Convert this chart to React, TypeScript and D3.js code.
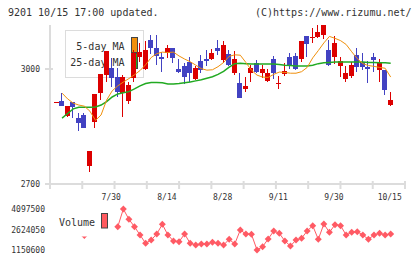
import * as d3 from "d3";

// daily candles, index 0 .. 60
const opens = [2914, 2917, 2878, 2915, 2872, 2879, 2748, 2863, 2938, 2984, 3002, 2980, 2937, 2917, 2977, 3032, 2999, 3076, 3054, 3031, 3041, 3055, 3000, 3008, 3018, 2974, 3021, 3026, 3027, 3056, 3024, 3039, 2989, 2964, 2949, 2989, 3016, 2989, 2970, 3026, 2960, 2987, 3030, 3034, 3026, 3086, 3080, 3084, 3089, 3050, 3031, 3009, 2974, 2982, 3037, 3018, 3005, 3031, 2997, 2997, 2906];
const closes = [2914, 2904, 2904, 2902, 2860, 2847, 2786, 2935, 2987, 3048, 2977, 2941, 2980, 2958, 3041, 3044, 3050, 3054, 3035, 3026, 3056, 3028, 2993, 2980, 2989, 3003, 2997, 3022, 3043, 3048, 3063, 3011, 3026, 2925, 2956, 3003, 2993, 3000, 2989, 2989, 2964, 2995, 3008, 2999, 3073, 3064, 3084, 3097, 3115, 3010, 3068, 3022, 2990, 3010, 3006, 3006, 3000, 3024, 3018, 2945, 2919];
const highs = [2914, 2937, 2904, 2915, 2884, 2884, 2786, 2935, 2987, 3048, 3028, 3002, 2984, 2966, 3050, 3067, 3074, 3089, 3089, 3044, 3063, 3055, 3025, 3016, 3030, 3009, 3037, 3050, 3052, 3076, 3073, 3050, 3047, 2989, 2978, 3010, 3024, 3010, 3000, 3034, 2982, 3016, 3041, 3041, 3073, 3086, 3106, 3115, 3115, 3076, 3086, 3032, 3009, 3019, 3054, 3041, 3021, 3041, 3026, 2997, 2940];
const lows = [2914, 2904, 2876, 2873, 2839, 2847, 2731, 2845, 2919, 2967, 2954, 2928, 2876, 2909, 2967, 3019, 2997, 3039, 3010, 2993, 3028, 3016, 2989, 2960, 2967, 2971, 2989, 3007, 3024, 3037, 3016, 3007, 2984, 2925, 2939, 2966, 2989, 2976, 2965, 2974, 2948, 2982, 2999, 2997, 3019, 3032, 3067, 3080, 3077, 3007, 3013, 2980, 2967, 2976, 2993, 2997, 2964, 2993, 2967, 2932, 2904];

const ma5 = [null, 2937, 2922, 2911, 2906, 2903, 2890, 2866, 2880, 2919, 2943, 2956, 2966, 2975, 2985, 2996, 3011, 3030, 3040, 3044, 3043, 3044, 3034, 3026, 3019, 3010, 3001, 2997, 2998, 3006, 3017, 3033, 3037, 3036, 3017, 2997, 2984, 2979, 2978, 2986, 2992, 2991, 2989, 2989, 2993, 3004, 3029, 3048, 3068, 3085, 3080, 3074, 3064, 3045, 3027, 3014, 3009, 3007, 3004, 3002, 2979];
const ma25 = [null, 2872, 2884, 2896, 2900, 2900, 2900, 2901, 2906, 2915, 2927, 2935, 2938, 2941, 2948, 2956, 2962, 2965, 2965, 2964, 2961, 2961, 2962, 2964, 2966, 2969, 2972, 2976, 2980, 2986, 2994, 3005, 3014, 3015, 3014, 3013, 3013, 3013, 3013, 3013, 3012, 3010, 3009, 3008, 3008, 3008, 3010, 3014, 3016, 3017, 3018, 3018, 3018, 3018, 3018, 3018, 3017, 3017, 3016, 3016, 3015];

// first points sit behind the volume legend
const volumes = [null, null, null, null, null, 2190000, null, null, null, null, null, 2825000, 4097500, 3357000, 2825000, 2229000, 1632000, 1869000, 2301000, 2998000, 2229000, 1797000, 1747000, 2301000, 1632000, 1510000, 1582000, 1582000, 1704000, 1632000, 1510000, 1920000, 1582000, 2588000, 2301000, 2279000, 1150600, 1388000, 1941000, 2516000, 2351000, 1797000, 1438000, 1869000, 1992000, 2516000, 2897000, 1920000, 3019000, 2423000, 2969000, 2897000, 2229000, 2423000, 2466000, 2229000, 1920000, 2229000, 2351000, 2229000, 2301000];

const dateLabels = ["7/30", "8/14", "8/28", "9/11", "9/30", "10/15"];
const dateLabelIdx = [10, 20, 30, 40, 50, 60];
const priceTicks = [2700, 3000];
const volumeTicks = [4097500, 2624050, 1150600];

const FONT = "'DejaVu Sans Mono', monospace";
const RED = "#dc0000";
const BLUE = "#4242c2";
const ORANGE = "#f0900c";
const GREEN = "#22aa22";
const VOL = "#ff5a64";
const AXIS = "#dcdcdc";

export default function App() {
  const x = d3.scaleLinear().domain([0, opens.length - 1]).range([56.5, 390.7]);
  const y = d3.scaleLinear().domain([2700, 3000]).range([184, 69]);
  const vy = d3.scaleLinear().domain([1150600, 4097500]).range([250, 209]);
  const tickX = d3.scaleLinear().domain([0, 11]).range([50, 405]);

  const maLine = d3
    .line<number | null>()
    .defined((d) => d != null)
    .x((d, i) => x(i))
    .y((d) => y(d as number));

  const volLine = d3
    .line<number | null>()
    .defined((d) => d != null)
    .x((d, i) => x(i))
    .y((d) => vy(d as number));

  const diamond = d3.symbol(d3.symbolSquare, 24)();

  return (
    <svg
      width={420}
      height={259}
      style={{ position: "absolute", left: 0, top: 0, display: "block", background: "#fff" }}
      fontFamily={FONT}
    >
      <text x={8} y={16} fontSize={10} fill="#333">9201 10/15 17:00 updated.</text>
      <text x={255} y={16} fontSize={10} fill="#333">(C)https://www.rizumu.net/</text>

      {/* legend box (behind the candles) */}
      <rect x={65.5} y={30.5} width={78} height={47} fill="#fff" stroke={AXIS} />
      <text x={124.5} y={49.5} fontSize={10} textAnchor="end" fill="#333">5-day MA</text>
      <text x={124.5} y={66} fontSize={10} textAnchor="end" fill="#333">25-day MA</text>
      <rect x={131.5} y={37.5} width={6} height={15} fill={ORANGE} stroke="#444" />
      <rect x={131.5} y={53.5} width={6} height={15} fill={GREEN} stroke="#444" />

      {/* axes */}
      <line x1={50} x2={50} y1={25} y2={184} stroke={AXIS} strokeWidth={2} />
      <line x1={45} x2={405} y1={184} y2={184} stroke={AXIS} strokeWidth={2} />
      {priceTicks.map((p) => (
        <g key={p}>
          <line x1={45} x2={53} y1={y(p)} y2={y(p)} stroke={AXIS} strokeWidth={2} />
          <text x={40} y={y(p) + 3} fontSize={8} textAnchor="end" fill="#333">{p}</text>
        </g>
      ))}
      {d3.range(12).map((k) => (
        <line key={k} x1={tickX(k)} x2={tickX(k)} y1={181} y2={189} stroke={AXIS} strokeWidth={2} />
      ))}
      {dateLabels.map((t, k) => (
        <text key={t} x={x(dateLabelIdx[k]) - 1} y={200} fontSize={8} textAnchor="middle" fill="#333">
          {t}
        </text>
      ))}

      {/* candles */}
      {opens.map((o, i) => {
        const c = closes[i];
        const col = c >= o ? RED : BLUE;
        const bx = Math.floor(x(i) - 2.5);
        const top = Math.round(y(Math.max(o, c)));
        const bot = Math.round(y(Math.min(o, c)));
        return (
          <g key={i}>
            <line
              x1={bx + 2.5}
              x2={bx + 2.5}
              y1={Math.round(y(highs[i]))}
              y2={Math.round(y(lows[i]))}
              stroke={col}
            />
            <rect x={bx} y={top} width={5} height={Math.max(1, bot - top)} fill={col} />
          </g>
        );
      })}

      <path d={maLine(ma25) ?? ""} fill="none" stroke={GREEN} strokeWidth={1.5} />
      <path d={maLine(ma5) ?? ""} fill="none" stroke={ORANGE} strokeWidth={1} />

      {/* volume */}
      {volumeTicks.map((v) => (
        <text key={v} x={45} y={vy(v) + 3} fontSize={8} textAnchor="end" fill="#333">{v}</text>
      ))}
      <path d={volLine(volumes) ?? ""} fill="none" stroke={VOL} strokeWidth={1} />
      {volumes.map((v, i) =>
        v == null ? null : (
          <path key={i} d={diamond ?? ""} transform={`translate(${x(i)},${vy(v)}) rotate(45)`} fill={VOL} />
        )
      )}
      <rect x={52} y={205} width={62} height={31.5} fill="#fff" />
      <text x={59} y={225.5} fontSize={10} fill="#333">Volume</text>
      <rect x={101.5} y={213.5} width={6} height={14.5} fill="#ff5a5f" stroke="#444" />
    </svg>
  );
}
